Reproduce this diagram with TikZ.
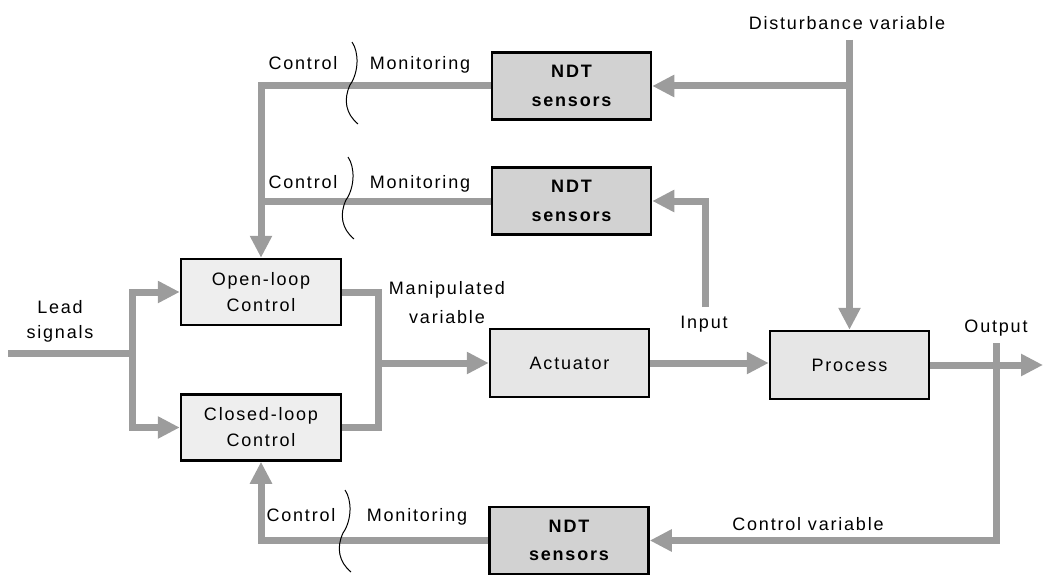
\documentclass[tikz,border=0pt]{standalone}
\usepackage{fontspec}
\setmainfont[LetterSpace=10]{Liberation Sans}
\usetikzlibrary{arrows.meta}
\definecolor{lgray}{HTML}{9C9C9C}
\definecolor{ndtfill}{HTML}{D2D2D2}
\definecolor{ctlfill}{HTML}{EEEEEE}
\definecolor{prcfill}{HTML}{E6E6E6}
\tikzset{
  conn/.style={draw=lgray, line width=7pt},
  arr/.style={conn, -{Triangle[length=22pt,width=21pt]}},
  box/.style={draw=black, line width=2.5pt, align=center, inner sep=0pt,
    font=\fontsize{18}{26}\selectfont},
  ndtbox/.style={box, fill=ndtfill, minimum width=159pt, minimum height=67pt,
    font=\fontsize{18}{28.5}\selectfont\bfseries},
  ctlbox/.style={box, fill=ctlfill, minimum width=160pt, minimum height=66pt},
  prcbox/.style={box, fill=prcfill, minimum width=159pt, minimum height=68pt},
  lbl/.style={anchor=base, inner sep=0pt, font=\fontsize{18}{26}\selectfont},
  wave/.style={draw=black, line width=1pt},
  wavepic/.pic={\draw[wave] (0,0) .. controls (7,10) and (7,30) .. (-2,43)
     .. controls (-9,58) and (-6,72) .. (6,82);}
}
\begin{document}
\begin{tikzpicture}[x=1pt,y=-1pt]
\useasboundingbox (0,0) rectangle (1043,575);
% boxes
\node[ndtbox] (ndt1) at (571.5,86) {NDT\\sensors};
\node[ndtbox] (ndt2) at (571.5,201) {NDT\\sensors};
\node[ndtbox] (ndt3) at (569,540.5) {NDT\\sensors};
\node[ctlbox] (open) at (261,292) {Open-loop\\Control};
\node[ctlbox] (closed) at (261,427.5) {Closed-loop\\Control};
\node[prcbox] (act) at (569.5,363) {Actuator};
\node[prcbox] (proc) at (849.5,365) {Process};
% free ends
\coordinate (lead) at (8,353);
\coordinate (bL) at (132,353);
\coordinate (mj) at (378,363);
\coordinate (out) at (1043,365);
\coordinate (otop) at (996,343);
\coordinate (dtop) at (849.5,40);
\coordinate (inp) at (705,307);
% connectors
\draw[conn] (lead) -- (bL);
\draw[arr] (bL) |- (open.west);
\draw[arr] (bL) |- (closed.west);
\draw[conn] (open.east) -| (mj) |- (closed.east);
\draw[arr] (mj) -- (act.west);
\draw[arr] (act.east) -- (proc.west |- act.east);
\draw[arr] (proc.east) -- (out);
\draw[arr] (otop) |- (ndt3.east);
\draw[arr] (ndt3.west) -| (closed.south);
\draw[arr] (ndt1.west) -| (open.north);
\draw[conn] (ndt2.west) -- (ndt2.west -| open.north);
\draw[arr] (dtop) -- (proc.north);
\draw[arr] (dtop |- ndt1.east) -- (ndt1.east);
\draw[arr] (inp) |- (ndt2.east);
% waves
\pic at (352,42) {wavepic};
\pic at (348,157) {wavepic};
\pic at (345,490) {wavepic};
% labels
\node[lbl] (c1) at (303,69.5) {Control};
\node[lbl] (m1) at (420,69.5) {Monitoring};
\node[lbl] (c2) at (303,188.5) {Control};
\node[lbl] (m2) at (420,188.5) {Monitoring};
\node[lbl] (c3) at (301,521.5) {Control};
\node[lbl] (m3) at (417,521.5) {Monitoring};
\node[lbl] (inl) at (704,328) {Input};
\node[lbl] (outl) at (996,332) {Output};
\node[lbl] (dist) at (847,30) {Disturbance variable};
\node[lbl] (cvar) at (808,530) {Control variable};
\node[lbl] (lead1) at (60,313) {Lead};
\node[lbl] (lead2) at (60,338) {signals};
\node[lbl] (man1) at (447,294) {Manipulated};
\node[lbl] (man2) at (447,323) {variable};
\end{tikzpicture}
\end{document}
